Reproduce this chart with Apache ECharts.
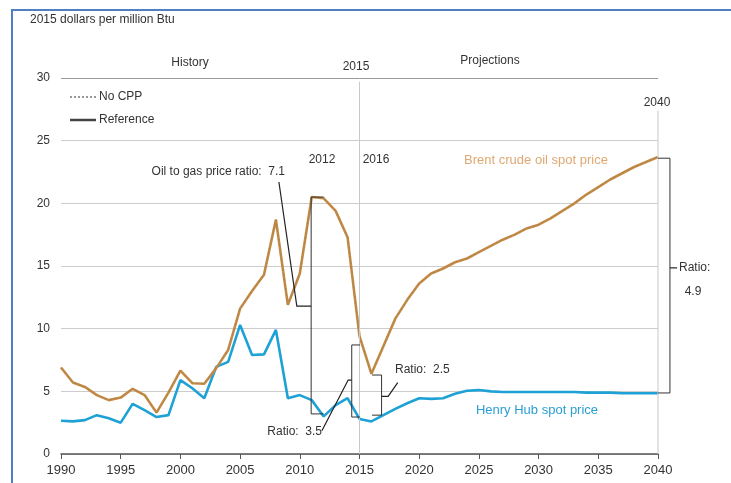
<!DOCTYPE html>
<html>
<head>
<meta charset="utf-8">
<script src="https://cdn.jsdelivr.net/npm/echarts@6/dist/echarts.min.js"></script>
<style>
  html, body { margin: 0; padding: 0; background: #fff; }
  #chart { width: 731px; height: 483px; }
</style>
</head>
<body>
<div id="chart"></div>
<script>
// years shown on the chart
const years = []
for (let y = 1990; y <= 2040; y++) years.push(y)

// Brent crude oil spot price, 2015 dollars per million Btu
const brent = [
  6.9, 5.7, 5.35, 4.7, 4.3, 4.5, 5.2, 4.7, 3.3, 4.9,
  6.65, 5.65, 5.6, 6.85, 8.3, 11.6, 13.0, 14.3, 18.7, 11.9,
  14.4, 20.5, 20.4, 19.4, 17.3, 9.4, 6.4, 8.6, 10.8, 12.3,
  13.6, 14.4, 14.8, 15.3, 15.6, 16.1, 16.6, 17.1, 17.5, 18.0,
  18.3, 18.8, 19.4, 20.0, 20.7, 21.3, 21.9, 22.4, 22.9, 23.3,
  23.7
]

// Henry Hub spot price
const henryHub = [
  2.65, 2.6, 2.7, 3.1, 2.85, 2.5, 4.0, 3.5, 2.95, 3.1,
  5.9, 5.25, 4.45, 6.95, 7.35, 10.3, 7.9, 7.95, 9.9, 4.45,
  4.7, 4.3, 3.0, 3.9, 4.45, 2.8, 2.6, 3.1, 3.6, 4.05,
  4.45, 4.4, 4.45, 4.8, 5.05, 5.1, 5.0, 4.95, 4.95, 4.95,
  4.95, 4.95, 4.95, 4.95, 4.9, 4.9, 4.9, 4.85, 4.85, 4.85,
  4.85
]

const yTicks = [0, 5, 10, 15, 20, 25, 30]

// ratio brackets, in [year, value]
const brackets = [
  [[2012.0, 20.5], [2010.95, 20.5], [2010.95, 3.2], [2012.0, 3.2]],
  [[2015.05, 8.7], [2014.35, 8.7], [2014.35, 2.95], [2015.05, 2.95]],
  [[2016.05, 6.3], [2016.85, 6.3], [2016.85, 3.1], [2016.05, 3.1]],
  [[2040.0, 23.6], [2041.0, 23.6], [2041.0, 4.87], [2040.0, 4.87]]
]
const leaders = [
  [[2008.25, 21.7], [2009.75, 11.8], [2010.95, 11.8]],
  [[2011.85, 1.85], [2014.05, 5.9], [2014.35, 5.9]],
  [[2018.2, 5.7], [2017.4, 4.6], [2016.85, 4.6]],
  [[2041.0, 14.85], [2041.6, 14.85]]
]
// light vertical guide lines
const guides = [
  [[2015, 29.7], [2015, 0]],
  [[2040, 27.4], [2040, 0]]
]

const seriesLine = (name, data, color, width, extra) => Object.assign({
  name,
  type: 'line',
  data: years.map((y, i) => [y, data[i]]),
  symbol: 'none',
  lineStyle: { color, width },
  silent: true,
  z: 3
}, extra || {})

const option = {
  animation: false,
  backgroundColor: '#fff',
  grid: { left: 61, right: 73, top: 78, bottom: 29 },
  xAxis: {
    type: 'value',
    min: 1990,
    max: 2040,
    interval: 5,
    axisLine: { lineStyle: { color: '#555', width: 1.5 } },
    axisTick: { show: true, length: 5, lineStyle: { color: '#555' } },
    axisLabel: { color: '#333', fontSize: 13, fontFamily: 'Liberation Sans', margin: 10, formatter: v => String(v) },
    splitLine: { show: false }
  },
  yAxis: {
    type: 'value',
    min: 0,
    max: 30,
    interval: 5,
    axisLine: { show: false },
    axisTick: { show: false },
    axisLabel: {
      color: '#333', fontSize: 12, fontFamily: 'Liberation Sans', margin: 11,
      formatter: v => (yTicks.includes(v) ? String(v) : '')
    },
    splitLine: { lineStyle: { color: ['#ccc', '#ccc', '#ccc', '#ccc', '#ccc', '#ccc', '#999'], width: 1 } }
  },
  series: [
    seriesLine('Henry Hub', henryHub, '#1ea2d6', 2.6),
    seriesLine('Brent', brent, '#c98a44', 2.6),
    seriesLine('No CPP', brent, '#7e8560', 1, {
      lineStyle: { color: '#7e8560', width: 1, type: [3, 2], opacity: 0.55 }, z: 4
    })
  ]
}

const chartDom = document.getElementById('chart')
const myChart = echarts.init(chartDom, null, { renderer: 'canvas' })
myChart.setOption(option)

// annotation drawing: data coords -> pixels
const px = p => myChart.convertToPixel({ gridIndex: 0 }, p)
const poly = (pts, color, width) => ({
  type: 'polyline',
  shape: { points: pts.map(px) },
  style: { stroke: color, lineWidth: width, fill: null },
  silent: true,
  z: 10
})
const txt = (x, y, text, opts) => ({
  type: 'text',
  x, y,
  style: Object.assign({
    text,
    fill: '#333',
    font: '12px "Liberation Sans", Arial, sans-serif',
    textVerticalAlign: 'middle'
  }, opts || {}),
  silent: true,
  z: 11
})

const graphics = [
  // outer frame
  { type: 'rect', shape: { x: 12, y: 10, width: 740, height: 500 }, style: { stroke: '#4f81c2', lineWidth: 2, fill: null }, silent: true },
  txt(30, 20, '2015 dollars per million Btu'),
  txt(190, 63, 'History', { textAlign: 'center' }),
  txt(356, 67, '2015', { textAlign: 'center' }),
  txt(490, 61, 'Projections', { textAlign: 'center' }),
  txt(657, 103, '2040', { textAlign: 'center' }),
  // legend
  { type: 'line', shape: { x1: 70, y1: 97, x2: 96, y2: 97 }, style: { stroke: '#333', lineWidth: 1, lineDash: [2, 2] }, silent: true },
  txt(99, 97, 'No CPP'),
  { type: 'line', shape: { x1: 70, y1: 120, x2: 96, y2: 120 }, style: { stroke: '#444', lineWidth: 2.5 }, silent: true },
  txt(99, 120, 'Reference'),
  // annotations text
  txt(285, 172, 'Oil to gas price ratio:  7.1', { textAlign: 'right' }),
  txt(322, 160, '2012', { textAlign: 'center' }),
  txt(376, 160, '2016', { textAlign: 'center' }),
  txt(322, 432, 'Ratio:  3.5', { textAlign: 'right' }),
  txt(395, 370, 'Ratio:  2.5'),
  txt(679, 268, 'Ratio:'),
  txt(693, 292, '4.9', { textAlign: 'center' }),
  txt(536, 160, 'Brent crude oil spot price', { textAlign: 'center', fill: '#dfa872', font: '13px "Liberation Sans", Arial, sans-serif' }),
  txt(537, 410, 'Henry Hub spot price', { textAlign: 'center', fill: '#2a9fd2', font: '13px "Liberation Sans", Arial, sans-serif' })
]
guides.forEach(g => graphics.push(poly(g, '#c8c8c8', 1)))
brackets.forEach(b => graphics.push(poly(b, '#333', 1)))
leaders.forEach(l => graphics.push(poly(l, '#222', 1.2)))

myChart.setOption({ graphic: graphics })
</script>
</body>
</html>
